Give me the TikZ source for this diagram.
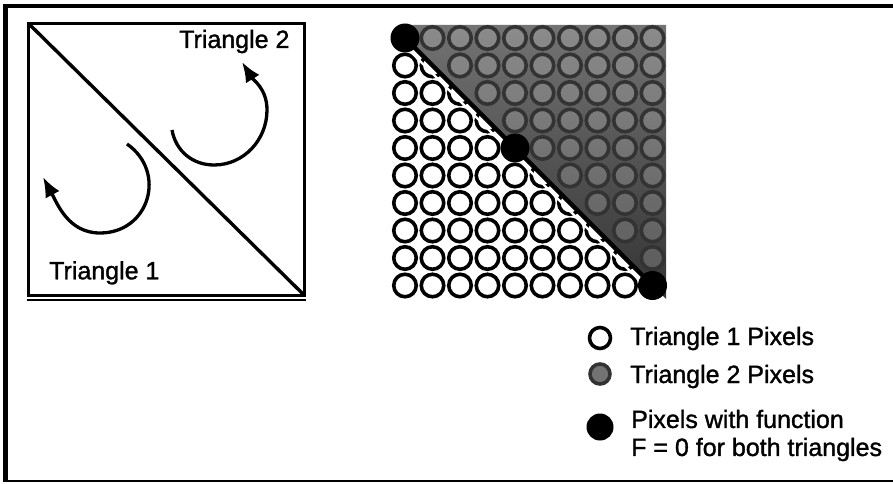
\documentclass[tikz,border=0pt]{standalone}
\usepackage{fontspec}
\setmainfont{Liberation Sans}
\newfontfamily\scanfont{Liberation Sans}[FakeBold=1.3]
\usetikzlibrary{arrows.meta}

\begin{document}
\begin{tikzpicture}[x=1pt,y=1pt,
  txt/.style={font=\scanfont\fontsize{25}{28}\selectfont,inner sep=0pt,anchor=base west},
  pix/.style={circle,draw=black,line width=3.6pt,minimum size=22.5pt,inner sep=0pt},
  tri1/.style={pix,fill=white},
  tri2/.style={pix,draw=black!80,fill=white,fill opacity=0.18},
  zero/.style={circle,fill=black,minimum size=29pt,inner sep=0pt},
  turn/.style={-{Latex[length=20pt,width=16pt]},line width=3.3pt}
]
\useasboundingbox (0,0) rectangle (893,483);
\draw[line width=4pt] (893,476.5) -- (5.8,476.5);
\draw[line width=2.6pt] (5.8,2) -- (893,2);
\draw[line width=5pt] (5.8,478.5) -- (5.8,0.7);

\draw[line width=2.8pt] (28.3,187.5) rectangle (304.5,459.7);
\draw[line width=1.4pt] (27,183) -- (305.5,183);
\draw[line width=3.4pt] (28.3,459.7) -- (304.5,187.5);
\node[txt] (t2) at (179,435) {Triangle 2};
\node[txt] (t1) at (49,203.7) {Triangle 1};
\draw[turn] (127,339) to[out=-35,in=0,looseness=1.35] (100,250) to[out=180,in=-62] (43,306);
\draw[turn] (172,353) to[out=-80,in=180] (214,318) to[out=0,in=-90] (267,373) to[out=90,in=-58] (242,421);

\foreach \k in {1,2,3,5,6,7,8}
  \node[tri1] (p-\k-\k) at ({405+27.5*\k},{445-27.5*\k}) {};
\shade[top color=black!55,bottom color=black!80]
  (405,445) -- (405,458) -- (666,458) -- (666,184) -- (652.5,197.5) -- cycle;
\foreach \i in {0,...,9}{
  \foreach \j in {0,...,9}{
    \ifnum\j<\i \node[tri1] (p-\i-\j) at ({405+27.5*\j},{445-27.5*\i}) {};\fi
    \ifnum\j>\i \node[tri2] (p-\i-\j) at ({405+27.5*\j},{445-27.5*\i}) {};\fi
  }
}
\draw[white,line width=2.4pt] (401,441) -- (648.5,193.5);
\draw[line width=4.4pt] (405,445) -- (652.5,197.5);
\foreach \k in {0,4,9}
  \node[zero] (p-\k-\k) at ({405+27.5*\k},{445-27.5*\k}) {};

\node[tri1,minimum size=21pt] (k1) at (600,145) {};
\node[tri2,fill=black!55,fill opacity=1,minimum size=20pt] (k2) at (600,109) {};
\node[zero,minimum size=27pt] (k3) at (600,56) {};
\node[txt] (l1) at (630,138) {Triangle 1 Pixels};
\node[txt] (l2) at (630,100) {Triangle 2 Pixels};
\node[txt,anchor=west,align=left] (l3) at (631,47.5) {Pixels with function\\F = 0 for both triangles};
\end{tikzpicture}
\end{document}
